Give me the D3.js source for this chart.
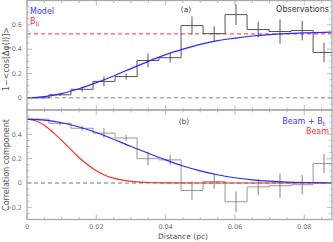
<!DOCTYPE html>
<html>
<head>
<meta charset="utf-8">
<script src="https://cdn.jsdelivr.net/npm/d3@7"></script>
<style>
  body { margin: 0; background: #fff; }
  svg { display: block; font-family: "DejaVu Sans", sans-serif; }
</style>
</head>
<body>
<svg id="chart" width="333" height="242"></svg>
<script>

// histogram bins (pc) and half-width of one bin
const binCenters = [0.0032, 0.0095, 0.0159, 0.0222, 0.0286, 0.0349, 0.0413, 0.0476, 0.0540, 0.0603, 0.0667, 0.0730, 0.0794, 0.0857];
const binHalf = 0.00318;

// panel (a) : 1 - <cos[dphi(l)]>
const obsTop = [0.0, 0.025, 0.07, 0.135, 0.175, 0.307, 0.33, 0.594, 0.528, 0.684, 0.561, 0.545, 0.553, 0.373];
const errTop = [0.004, 0.01, 0.02, 0.04, 0.025, 0.057, 0.04, 0.075, 0.06, 0.085, 0.065, 0.1, 0.08, 0.08];

// panel (b) : correlation component
const obsBottom = [0.525, 0.49, 0.45, 0.41, 0.37, 0.20, 0.19, -0.062, 0.013, -0.154, -0.032, -0.022, -0.014, 0.16];
const errBottom = [0.004, 0.017, 0.02, 0.04, 0.025, 0.057, 0.04, 0.075, 0.06, 0.085, 0.065, 0.1, 0.08, 0.08];

const b0 = 0.525;

// fitted curves
const modelX = [0, 0.005, 0.01, 0.015, 0.02, 0.025, 0.03, 0.035, 0.04, 0.045, 0.05, 0.055, 0.06, 0.065, 0.07, 0.075, 0.08, 0.088];
const modelY = [0, 0.01, 0.035, 0.075, 0.125, 0.18, 0.24, 0.30, 0.355, 0.40, 0.44, 0.47, 0.49, 0.508, 0.52, 0.528, 0.534, 0.54];

const beamBtX = [0, 0.005, 0.01, 0.015, 0.02, 0.025, 0.03, 0.035, 0.04, 0.045, 0.05, 0.055, 0.06, 0.065, 0.07, 0.075, 0.08, 0.088];
const beamBtY = [0.525, 0.517, 0.495, 0.46, 0.415, 0.36, 0.30, 0.245, 0.19, 0.14, 0.10, 0.068, 0.043, 0.026, 0.015, 0.008, 0.004, 0.001];

const beamX = [0, 0.0025, 0.005, 0.0075, 0.01, 0.0125, 0.015, 0.0175, 0.02, 0.0225, 0.025, 0.03, 0.035, 0.04, 0.05, 0.088];
const beamY = [0.525, 0.512, 0.475, 0.416, 0.35, 0.28, 0.21, 0.15, 0.10, 0.064, 0.04, 0.013, 0.004, 0.001, 0, 0];

const xTickLabels = ["0", "0.02", "0.04", "0.06", "0.08"];
const topTickLabels = ["0", "0.2", "0.4", "0.6"];
const bottomTickLabels = ["\u22120.2", "0", "0.2", "0.4"];

//-------------------------------------------------------------------------------

const svg = d3.select('#chart');
const left = 27, right = 332;
const axisGrey = '#aaa', labelGrey = '#777';

const x = d3.scaleLinear().domain([0, 0.088]).range([left, right]);
const yTop = d3.scaleLinear().domain([-0.1, 0.8]).range([110, 0.5]);
const yBot = d3.scaleLinear().domain([-0.3, 0.6]).range([219.5, 110]);

//-------------------------------------------------------------------------------
// inward ticks on all four sides, IDL style

function DrawFrame(y, majorY, minorY, labels) {
    const g = svg.append('g');
    const [y0, y1] = y.range();

    const majX = d3.range(0, 0.0881, 0.02), minX = d3.range(0, 0.0881, 0.005);
    [[y0, -1], [y1, 1]].forEach(([yy, dir]) => {
        g.selectAll(null).data(minX).join('line')
            .attr('x1', x).attr('x2', x)
            .attr('y1', yy).attr('y2', d => yy + dir * (majX.some(m => Math.abs(m - d) < 1e-6) ? 5 : 2.5))
            .attr('stroke', axisGrey).attr('stroke-width', 0.8);
    });

    const [d0, d1] = y.domain();
    const minors = d3.range(Math.ceil(d0 / minorY - 1e-6) * minorY, d1 + 1e-6, minorY);
    [[left, 1], [right, -1]].forEach(([xx, dir]) => {
        g.selectAll(null).data(minors).join('line')
            .attr('y1', y).attr('y2', y)
            .attr('x1', xx).attr('x2', d => xx + dir * (majorY.some(m => Math.abs(m - d) < 1e-6) ? 5 : 2.5))
            .attr('stroke', axisGrey).attr('stroke-width', 0.8);
    });

    g.selectAll(null).data(majorY).join('text')
        .attr('x', left - 5).attr('y', d => y(d) + 2.3)
        .attr('text-anchor', 'end')
        .attr('font-size', 6.5).attr('fill', labelGrey)
        .text((d, i) => labels[i]);

    g.append('rect')
        .attr('x', left).attr('y', y1)
        .attr('width', right - left).attr('height', y0 - y1)
        .attr('fill', 'none').attr('stroke', axisGrey).attr('stroke-width', 1.3);
}

//-------------------------------------------------------------------------------

function StepPoints(vals) {
    const pts = [];
    vals.forEach((v, i) => {
        pts.push([binCenters[i] - binHalf, v]);
        pts.push([Math.min(binCenters[i] + binHalf, 0.088), v]);
    });
    return pts;
}

function DrawHistogram(y, vals, errs, colour, errColour) {
    svg.append('path')
        .datum(StepPoints(vals))
        .attr('d', d3.line().x(d => x(d[0])).y(d => y(d[1])))
        .attr('fill', 'none').attr('stroke', colour).attr('stroke-width', 1);

    svg.append('g').selectAll('line')
        .data(vals)
        .join('line')
        .attr('x1', (d, i) => x(binCenters[i])).attr('x2', (d, i) => x(binCenters[i]))
        .attr('y1', (d, i) => y(d - errs[i])).attr('y2', (d, i) => y(d + errs[i]))
        .attr('stroke', errColour).attr('stroke-width', 0.9);
}

function DrawCurve(y, xs, ys, colour) {
    svg.append('path')
        .datum(xs.map((d, i) => [d, ys[i]]))
        .attr('d', d3.line().x(d => x(d[0])).y(d => y(d[1])).curve(d3.curveMonotoneX))
        .attr('fill', 'none').attr('stroke', colour).attr('stroke-width', 1.2);
}

function HLine(y, v, colour, w) {
    svg.append('line')
        .attr('x1', left).attr('x2', right)
        .attr('y1', y(v)).attr('y2', y(v))
        .attr('stroke', colour).attr('stroke-width', w)
        .attr('stroke-dasharray', '4,3');
}

function Label(xx, yy, txt, colour, size, anchor) {
    return svg.append('text')
        .attr('x', xx).attr('y', yy)
        .attr('font-size', size).attr('fill', colour)
        .attr('text-anchor', anchor || 'start')
        .text(txt);
}

//-------------------------------------------------------------------------------
// panel (a)

HLine(yTop, 0, '#888', 1);
HLine(yTop, b0, '#ff5a5a', 1.2);
DrawHistogram(yTop, obsTop, errTop, '#555', '#444');
DrawCurve(yTop, modelX, modelY, '#2a2aff');
DrawFrame(yTop, [0, 0.2, 0.4, 0.6], 0.05, topTickLabels);

Label(30, 14, 'Model', '#3a3aff', 8);
const b0Text = Label(30, 24, 'B', '#ff3030', 8);
b0Text.append('tspan').attr('font-size', 6).attr('dy', 2).text('0');
Label(186, 12, '(a)', '#444', 7.5, 'middle');
Label(329, 12, 'Observations', '#333', 8, 'end');

svg.append('text')
    .attr('transform', 'translate(9,59) rotate(-90)')
    .attr('text-anchor', 'middle')
    .attr('font-size', 8).attr('fill', '#555')
    .text('1\u2212<cos[\u0394\u03c6(l)]>');

//-------------------------------------------------------------------------------
// panel (b)

DrawHistogram(yBot, obsBottom, errBottom, '#999', '#777');
HLine(yBot, 0, '#777', 1);
DrawCurve(yBot, beamX, beamY, '#ff2a2a');
DrawCurve(yBot, beamBtX, beamBtY, '#2a2aff');
DrawFrame(yBot, [-0.2, 0, 0.2, 0.4], 0.05, bottomTickLabels);

Label(184, 124, '(b)', '#444', 7.5, 'middle');
const btText = Label(325, 124, 'Beam + B', '#3a3aff', 8, 'end');
btText.append('tspan').attr('font-size', 6).attr('dy', 2).text('t');
Label(329, 134, 'Beam', '#ff3030', 8, 'end');

svg.append('text')
    .attr('transform', 'translate(9,165) rotate(-90)')
    .attr('text-anchor', 'middle')
    .attr('font-size', 8).attr('fill', '#555')
    .text('Correlation component');

// shared x axis labels
svg.append('g').selectAll('text')
    .data(xTickLabels)
    .join('text')
    .attr('x', (d, i) => x(i * 0.02)).attr('y', 229)
    .attr('text-anchor', 'middle')
    .attr('font-size', 6.5).attr('fill', labelGrey)
    .text(d => d);

Label(183, 239, 'Distance (pc)', '#555', 7.5, 'middle');

</script>
</body>
</html>
